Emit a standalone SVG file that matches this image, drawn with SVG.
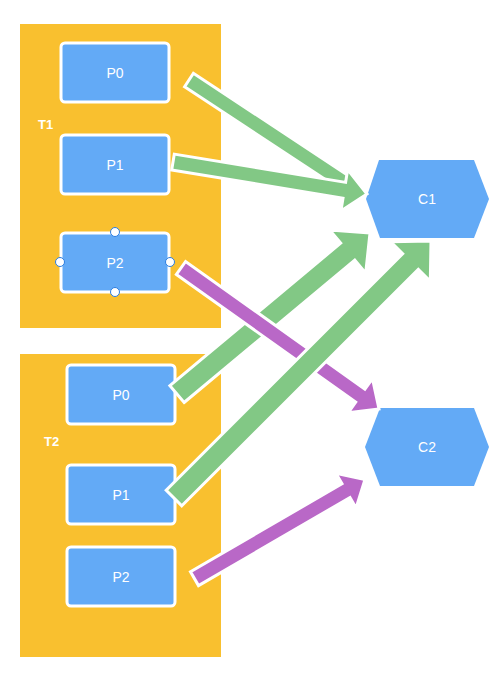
<svg xmlns="http://www.w3.org/2000/svg" width="503" height="673" viewBox="0 0 503 673">
<style>
.cont{fill:#F9C02F;}
.box{fill:#63AAF6;stroke:#FFFFFF;stroke-width:3;}
.hex{fill:#63AAF6;}
.lbl{font-family:"Liberation Sans",Arial,sans-serif;font-size:14px;fill:#FFFFFF;text-anchor:middle;}
.tl{font-family:"Liberation Sans",Arial,sans-serif;font-size:13px;font-weight:bold;fill:#FFFFFF;}
.ag{fill:#82C885;stroke:#FFFFFF;stroke-width:3;stroke-linejoin:miter;}
.ap{fill:#B968C7;stroke:#FFFFFF;stroke-width:3;stroke-linejoin:miter;}
.h{fill:#FFFFFF;stroke:#2A7DE1;stroke-width:1;}
</style>
<rect width="503" height="673" fill="#FFFFFF"/>
<g id="T1">
<rect class="cont" x="20" y="24" width="201" height="304"/>
<text class="tl" x="38" y="129">T1</text>
</g>
<g id="T2">
<rect class="cont" x="20" y="354" width="201" height="303"/>
<text class="tl" x="44" y="446">T2</text>
</g>
<g id="T1_P0"><rect class="box" x="61" y="43" width="108" height="59" rx="4"/><text class="lbl" x="115" y="77.5">P0</text></g>
<g id="T1_P1"><rect class="box" x="61" y="135" width="108" height="59" rx="4"/><text class="lbl" x="115" y="169.5">P1</text></g>
<g id="T1_P2"><rect class="box" x="61" y="233" width="108" height="59" rx="4"/><text class="lbl" x="115" y="267.5">P2</text></g>
<g id="T2_P0"><rect class="box" x="67" y="365" width="108" height="59" rx="4"/><text class="lbl" x="121" y="399.5">P0</text></g>
<g id="T2_P1"><rect class="box" x="67" y="465" width="108" height="59" rx="4"/><text class="lbl" x="121" y="499.5">P1</text></g>
<g id="T2_P2"><rect class="box" x="67" y="547" width="108" height="59" rx="4"/><text class="lbl" x="121" y="581.5">P2</text></g>
<g id="C1"><polygon class="hex" points="379,160 474,160 489,199 474,238 380,238 366,199"/><text class="lbl" x="427" y="204">C1</text></g>
<g id="C2"><polygon class="hex" points="380,408 474,408 489,447 474,486 380,486 365,447"/><text class="lbl" x="427" y="452">C2</text></g>
<g id="connectors">
<polygon class="ag" points="184.6,86.7 336.6,187.0 333.8,191.2 356,190.2 348.2,169.4 345.4,173.6 193.4,73.3"/>
<polygon class="ag" points="171.7,169.9 343.0,198.2 340.9,211.0 367,194 347.7,169.6 345.6,182.4 174.3,154.1"/>
<polygon class="ag" points="184.1,402.5 354.8,260.0 365.7,273.1 370,233 329.8,230.1 340.7,243.1 169.9,385.6"/>
<polygon class="ap" points="176.4,274.5 355.7,402.2 348.1,412.8 379,409 372.5,378.6 364.9,389.2 185.6,261.5"/>
<polygon class="ag" points="181.8,505.8 418.3,269.3 430.3,281.3 431,241 390.7,241.7 402.7,253.7 166.2,490.2"/>
<polygon class="ap" points="198.5,585.6 350.0,497.5 356.1,507.9 365,479.5 335.9,473.3 342.0,483.7 190.5,571.8"/>
</g>
<g id="selection">
<circle class="h" cx="115" cy="232" r="4.5"/>
<circle class="h" cx="115" cy="292" r="4.5"/>
<circle class="h" cx="60" cy="262" r="4.5"/>
<circle class="h" cx="170" cy="262" r="4.5"/>
</g>
</svg>
